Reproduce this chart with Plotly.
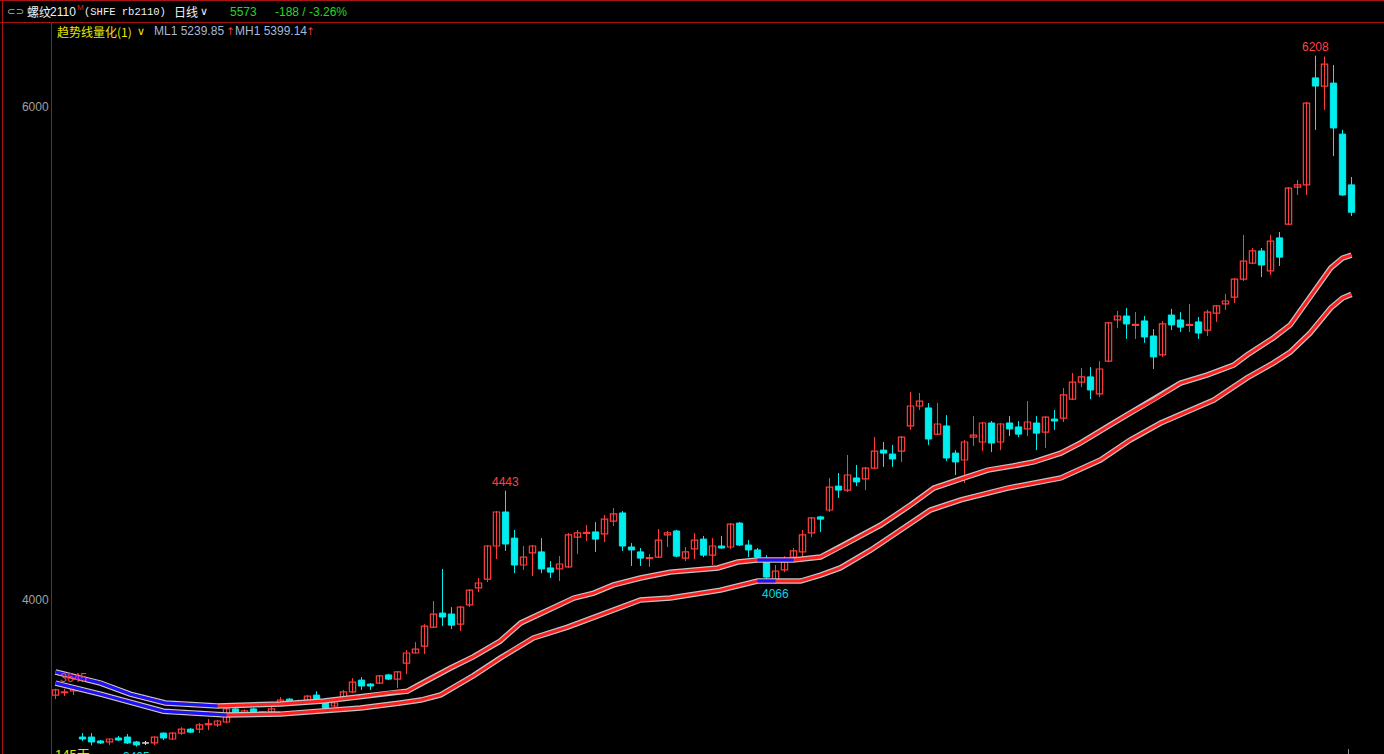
import plotly.graph_objects as go

W, H = 1384, 754

# ---------------- data (daily candles, rb2110) ----------------
opens = [3614, 3624, 3631, 3444, 3444, 3428, 3424, 3440, 3444, 3424,
         3420, 3420, 3460, 3436, 3460, 3476, 3476, 3494, 3493, 3505,
         3558, 3541, 3558, 3541, 3546, 3582, 3598, 3582, 3594, 3614,
         3590, 3570, 3602, 3627, 3675, 3659, 3663, 3696, 3679, 3744,
         3785, 3813, 3890, 3947, 3943, 3902, 3980, 4049, 4085, 4219,
         4357, 4251, 4142, 4191, 4195, 4130, 4126, 4134, 4255, 4270,
         4276, 4268, 4320, 4353, 4215, 4195, 4168, 4174, 4264, 4280,
         4170, 4207, 4247, 4182, 4219, 4215, 4312, 4223, 4203, 4154,
         4081, 4122, 4174, 4195, 4272, 4337, 4365, 4462, 4446, 4495,
         4491, 4535, 4608, 4592, 4604, 4706, 4787, 4779, 4673, 4706,
         4596, 4568, 4661, 4641, 4718, 4641, 4718, 4702, 4694, 4718,
         4681, 4734, 4738, 4815, 4884, 4905, 4836, 4969, 5136, 5152,
         5114, 5132, 5071, 4994, 5156, 5136, 5114, 5128, 5095, 5164,
         5201, 5229, 5302, 5367, 5416, 5335, 5469, 5525, 5675, 5684,
         6118, 6085, 6097, 5890, 5684]
highs = [3640, 3640, 3645, 3460, 3460, 3432, 3438, 3448, 3456, 3428,
         3428, 3446, 3462, 3463, 3484, 3480, 3501, 3517, 3513, 3562,
         3562, 3556, 3562, 3550, 3578, 3606, 3602, 3596, 3614, 3630,
         3594, 3586, 3635, 3683, 3687, 3663, 3696, 3700, 3712, 3797,
         3829, 3902, 3996, 4126, 3971, 3976, 4044, 4089, 4223, 4361,
         4443, 4284, 4219, 4223, 4251, 4158, 4178, 4272, 4284, 4304,
         4316, 4345, 4373, 4361, 4231, 4211, 4187, 4288, 4280, 4284,
         4215, 4272, 4260, 4251, 4260, 4312, 4316, 4243, 4211, 4182,
         4142, 4178, 4211, 4284, 4337, 4341, 4495, 4515, 4588, 4548,
         4540, 4661, 4641, 4629, 4665, 4844, 4840, 4799, 4799, 4750,
         4608, 4649, 4746, 4722, 4726, 4718, 4746, 4726, 4807, 4746,
         4746, 4771, 4860, 4921, 4941, 4945, 4969, 5128, 5172, 5185,
         5168, 5152, 5099, 5132, 5181, 5168, 5201, 5148, 5177, 5197,
         5241, 5306, 5481, 5428, 5428, 5481, 5493, 5675, 5704, 6020,
         6208, 6205, 6170, 5907, 5716]
lows = [3598, 3610, 3614, 3428, 3410, 3416, 3412, 3428, 3416, 3405,
        3412, 3412, 3432, 3432, 3452, 3460, 3460, 3472, 3485, 3500,
        3536, 3536, 3536, 3530, 3525, 3570, 3570, 3578, 3590, 3590,
        3558, 3566, 3598, 3622, 3635, 3635, 3659, 3675, 3643, 3700,
        3783, 3781, 3886, 3894, 3882, 3874, 3971, 4032, 4073, 4166,
        4199, 4109, 4122, 4097, 4109, 4089, 4077, 4130, 4187, 4239,
        4195, 4235, 4300, 4199, 4138, 4138, 4134, 4170, 4215, 4174,
        4158, 4166, 4174, 4142, 4207, 4207, 4219, 4174, 4166, 4073,
        4066, 4113, 4170, 4174, 4255, 4276, 4357, 4414, 4438, 4462,
        4446, 4531, 4540, 4540, 4560, 4690, 4771, 4629, 4669, 4564,
        4507, 4475, 4625, 4604, 4600, 4608, 4665, 4661, 4665, 4608,
        4617, 4690, 4722, 4811, 4864, 4815, 4823, 4965, 5103, 5059,
        5059, 5043, 4937, 4986, 5095, 5087, 5087, 5059, 5071, 5128,
        5177, 5205, 5294, 5363, 5310, 5318, 5355, 5521, 5643, 5643,
        5907, 5988, 5801, 5639, 5558]
closes = [3635, 3627, 3642, 3436, 3424, 3420, 3436, 3432, 3420, 3412,
          3420, 3444, 3440, 3460, 3476, 3464, 3493, 3498, 3509, 3558,
          3541, 3550, 3541, 3546, 3558, 3594, 3586, 3590, 3610, 3594,
          3562, 3582, 3627, 3667, 3651, 3651, 3692, 3679, 3708, 3785,
          3801, 3894, 3943, 3931, 3898, 3971, 4040, 4069, 4219, 4357,
          4227, 4142, 4174, 4219, 4126, 4113, 4146, 4264, 4272, 4274,
          4247, 4328, 4349, 4219, 4203, 4170, 4172, 4243, 4272, 4178,
          4195, 4243, 4182, 4219, 4211, 4308, 4223, 4203, 4174, 4093,
          4117, 4154, 4199, 4264, 4333, 4328, 4458, 4446, 4507, 4479,
          4535, 4604, 4596, 4572, 4661, 4787, 4807, 4653, 4714, 4576,
          4560, 4641, 4669, 4718, 4637, 4714, 4694, 4673, 4722, 4677,
          4742, 4726, 4832, 4884, 4905, 4852, 4937, 5124, 5152, 5120,
          5118, 5067, 4986, 5120, 5116, 5107, 5118, 5083, 5168, 5193,
          5213, 5302, 5375, 5416, 5359, 5456, 5391, 5671, 5684, 6016,
          6085, 6174, 5915, 5643, 5573]

# trend lines (candle index, price)
mh_idx = [0, 5, 8.3, 12.2, 18, 25, 29.8, 33.6, 37.2, 39.1, 40.2, 42.4, 43.9,
          46.4, 49.4, 51.7, 54.7, 57.6, 59.8, 62, 65, 68.3, 73.6, 75.8, 78,
          82, 85, 87.2, 91.7, 95, 97.6, 100.6, 103.6, 106.4, 108.7, 111.7,
          113.9, 117.2, 119.4, 122, 125, 128, 130.9, 132.4, 135.3, 137.2,
          139.4, 141.7, 143, 144]
mh_val = [3708, 3663, 3618, 3582, 3570, 3578, 3590, 3606, 3625, 3630, 3652,
          3696, 3724, 3769, 3833, 3907, 3959, 4008, 4028, 4061, 4089, 4113,
          4130, 4154, 4162, 4162, 4174, 4215, 4304, 4385, 4454, 4491, 4527,
          4544, 4560, 4596, 4637, 4710, 4758, 4811, 4880, 4913, 4953, 4994,
          5063, 5116, 5229, 5347, 5387, 5399.14]
ml_idx = [0, 5, 12, 19, 25, 29.8, 33.9, 38.3, 40.6, 42.8, 46.4, 49.4, 53.1,
          56.9, 60.6, 65, 68.3, 73.9, 78, 80, 82.8, 85, 87.2, 90.6, 93.9,
          97.2, 100.6, 103.9, 105.8, 111.7, 116.1, 119.4, 122.8, 128.7,
          132.4, 135.3, 137.2, 139.4, 141.7, 143, 144]
ml_val = [3663, 3618, 3549, 3533, 3537, 3549, 3562, 3582, 3594, 3615, 3692,
          3764, 3846, 3890, 3939, 4000, 4008, 4040, 4077, 4077, 4077, 4101,
          4130, 4203, 4284, 4365, 4406, 4438, 4454, 4495, 4568, 4649, 4718,
          4811, 4901, 4961, 5006, 5083, 5185, 5225, 5239.85]
mh_blue = [(0, 18), (78, 82)]
ml_blue = [(0, 19), (78, 80)]

ytick_vals = [4000, 6000]
ytick_text = ["4000", "6000"]

high_marks = [(140, "6208"), (50, "4443"), (2, "3645")]
low_marks = [(80, "4066"), (9, "3405")]

# ---------------- styling ----------------
UP = "#ff3c3c"
DN = "#00eeee"
EQ = "#d8d8d8"
FRAME = "#a81414"
X0 = 55.5                      # pixel of first candle centre
STEP = 9.0                     # pixels per candle
XL, YT = 52, 22                # plot area left / top in pixels
Y_RANGE = [3375.2, 6344.8]
X_RANGE = [-(X0 - XL) / STEP, (W - X0) / STEP]

def px(x):
    return x / W

def py(y):
    return 1 - y / H

fig = go.Figure()
n = len(opens)
up = [i for i in range(n) if closes[i] > opens[i]]
dn = [i for i in range(n) if closes[i] < opens[i]]
eq = [i for i in range(n) if closes[i] == opens[i]]

def wicks(sel, color):
    xs, ys = [], []
    for i in sel:
        xs += [i, i, None]
        ys += [lows[i], highs[i], None]
    return go.Scatter(x=xs, y=ys, mode="lines", line=dict(color=color, width=1),
                      hoverinfo="skip", showlegend=False)

fig.add_trace(wicks(up, UP))
fig.add_trace(wicks(dn, DN))
fig.add_trace(wicks(eq, EQ))

fig.add_trace(go.Bar(x=up, base=[opens[i] for i in up],
                     y=[closes[i] - opens[i] for i in up], width=0.7,
                     marker=dict(color="#000000", line=dict(color=UP, width=1.2)),
                     hoverinfo="skip", showlegend=False))
fig.add_trace(go.Bar(x=dn, base=[closes[i] for i in dn],
                     y=[opens[i] - closes[i] for i in dn], width=0.7,
                     marker=dict(color=DN, line=dict(color=DN, width=1)),
                     hoverinfo="skip", showlegend=False))
xs, ys = [], []
for i in eq:
    xs += [i - 0.38, i + 0.38, None]
    ys += [opens[i], opens[i], None]
fig.add_trace(go.Scatter(x=xs, y=ys, mode="lines", line=dict(color=EQ, width=1.5),
                         hoverinfo="skip", showlegend=False))

def add_trend(ix, vals, blue_ranges):
    fig.add_trace(go.Scatter(x=ix, y=vals, mode="lines",
                             line=dict(color="#c4c4c4", width=5.5),
                             hoverinfo="skip", showlegend=False))
    fig.add_trace(go.Scatter(x=ix, y=vals, mode="lines",
                             line=dict(color="#ff1e1e", width=3),
                             hoverinfo="skip", showlegend=False))
    for lo, hi in blue_ranges:
        sx = [x for x in ix if lo <= x <= hi]
        sy = [v for x, v in zip(ix, vals) if lo <= x <= hi]
        fig.add_trace(go.Scatter(x=sx, y=sy, mode="lines",
                                 line=dict(color="#1414ff", width=3),
                                 hoverinfo="skip", showlegend=False))

add_trend(ml_idx, ml_val, ml_blue)
add_trend(mh_idx, mh_val, mh_blue)

annotations = []
for i, t in high_marks:
    annotations.append(dict(x=i, y=highs[i], xref="x", yref="y", text=t,
                            showarrow=False, yanchor="bottom", yshift=0,
                            font=dict(family="Liberation Sans", size=12, color="#ff4040")))
for i, t in low_marks:
    annotations.append(dict(x=i, y=lows[i], xref="x", yref="y", text=t,
                            showarrow=False, yanchor="top", yshift=-1,
                            font=dict(family="Liberation Sans", size=12, color="#00d8e8")))

def txt(x, y, text, color, size=12, family="Liberation Sans", anchor="left"):
    annotations.append(dict(x=px(x), y=py(y), xref="paper", yref="paper", text=text,
                            showarrow=False, xanchor=anchor, yanchor="middle",
                            font=dict(family=family, size=size, color=color)))

CJK = "Noto Sans CJK SC"
txt(5, 12, "⊂⊃", "#b0b0b0", 10, "DejaVu Sans")
txt(25, 12, "螺纹", "#f0f0f0", 12, CJK)
txt(48, 12, "2110", "#f0f0f0", 12, "Liberation Sans")
txt(75, 8, "M", "#e02020", 8, "Liberation Sans")
txt(82, 12, "(SHFE rb2110)", "#f0f0f0", 10.5, "Liberation Mono")
txt(172, 12, "日线", "#f0f0f0", 12, CJK)
txt(198, 12, "∨", "#f0f0f0", 11, "DejaVu Sans")
txt(228, 12, "5573", "#22d822", 12)
txt(273, 12, "-188 / -3.26%", "#22d822", 12)

txt(55, 31, "趋势线量化(1)", "#e6e600", 12, CJK)
txt(135, 31, "∨", "#e6e600", 11, "DejaVu Sans")
txt(152, 31, "ML1 5239.85", "#a8b8d8", 12)
txt(223.5, 31, "↑", "#ff3030", 10.5, "DejaVu Sans")
txt(233, 31, "MH1 5399.14", "#a8b8d8", 12)
txt(304, 31, "↑", "#ff3030", 10.5, "DejaVu Sans")

annotations.append(dict(x=px(53), y=py(745), xref="paper", yref="paper", text="145天",
                        showarrow=False, xanchor="left", yanchor="top",
                        font=dict(family="Liberation Sans, " + CJK, size=13, color="#e6e600")))

shapes = [
    dict(type="line", xref="paper", yref="paper", x0=0, x1=1, y0=py(0.5), y1=py(0.5),
         line=dict(color=FRAME, width=1)),
    dict(type="line", xref="paper", yref="paper", x0=0, x1=1, y0=py(22.5), y1=py(22.5),
         line=dict(color=FRAME, width=1)),
    dict(type="line", xref="paper", yref="paper", x0=px(2.5), x1=px(2.5), y0=0, y1=1,
         line=dict(color=FRAME, width=1)),
    dict(type="line", xref="paper", yref="paper", x0=px(1348.5), x1=px(1348.5),
         y0=py(749), y1=0, line=dict(color="#909090", width=1)),
]

fig.update_layout(
    width=W, height=H, margin=dict(l=0, r=0, t=0, b=0, pad=0),
    paper_bgcolor="#000000", plot_bgcolor="#000000",
    barmode="overlay", showlegend=False,
    xaxis=dict(domain=[XL / W, 1], range=X_RANGE, showgrid=False, zeroline=False,
               showticklabels=False, showline=False, fixedrange=True),
    yaxis=dict(domain=[0, 1 - YT / H], range=Y_RANGE, showgrid=False, zeroline=False,
               showline=True, linecolor=FRAME, linewidth=1, ticks="",
               tickvals=ytick_vals, ticktext=ytick_text,
               tickfont=dict(family="Liberation Sans", size=12, color="#a0a0a0"),
               fixedrange=True),
    annotations=annotations, shapes=shapes,
    hovermode=False,
)

fig.write_html("out.html", config={"displayModeBar": False},
               post_script="document.body.style.margin='0px';")
